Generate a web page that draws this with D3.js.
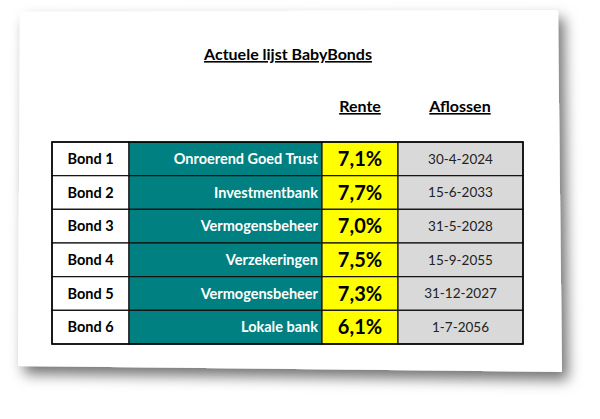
<!DOCTYPE html><html><head><meta charset="utf-8"><script src="https://cdn.jsdelivr.net/npm/d3@7"></script>
<style>body{margin:0;background:#fff}svg{display:block}</style></head><body><svg id="c" width="600" height="419"></svg>
<script>
const bonds=["Bond 1","Bond 2","Bond 3","Bond 4","Bond 5","Bond 6"];
const names=["Onroerend Goed Trust","Investmentbank","Vermogensbeheer","Verzekeringen","Vermogensbeheer","Lokale bank"];
const rates=["7,1%","7,7%","7,0%","7,5%","7,3%","6,1%"];
const dates=["30-4-2024","15-6-2033","31-5-2028","15-9-2055","31-12-2027","1-7-2056"];
const svg=d3.select("#c");
const F="Lato, 'Open Sans', sans-serif";
const defs=svg.append("defs");
const f=defs.append("filter").attr("id","sh").attr("x","-10%").attr("y","-10%").attr("width","125%").attr("height","130%");
f.append("feDropShadow").attr("dx",6).attr("dy",8).attr("stdDeviation",7).attr("flood-color","#000").attr("flood-opacity",0.55);
svg.append("path").attr("d","M20,12 L558,10 L562,372 L18,366 Z").attr("fill","#fff").attr("filter","url(#sh)");
svg.append("text").attr("x",288).attr("y",60).attr("text-anchor","middle").attr("font-family",F).attr("font-weight","bold").attr("font-size",16).attr("text-decoration","underline").text("Actuele lijst BabyBonds");
[["Rente",360],["Aflossen",460]].forEach(([t,x])=>svg.append("text").attr("x",x).attr("y",112).attr("text-anchor","middle").attr("font-family",F).attr("font-weight","bold").attr("font-size",16).attr("text-decoration","underline").text(t));
const y=d3.scaleBand().domain(d3.range(6)).range([142,344]);
const cols=[{x0:52,x1:129,fill:"#fff",col:"#000",txt:bonds,anchor:"middle",size:14.5,w:"bold"},
{x0:129,x1:322,fill:"#008080",col:"#fff",txt:names,anchor:"end",size:14.5,w:"bold"},
{x0:322,x1:398,fill:"#ffff00",col:"#000",txt:rates,anchor:"middle",size:20,w:"bold"},
{x0:398,x1:523,fill:"#d9d9d9",col:"#222",txt:dates,anchor:"middle",size:13.5,w:"normal"}];
cols.forEach(c=>{
 const g=svg.append("g");
 g.selectAll("rect").data(d3.range(6)).join("rect").attr("x",c.x0).attr("y",i=>y(i)).attr("width",c.x1-c.x0).attr("height",y.bandwidth()).attr("fill",c.fill).attr("stroke","#111").attr("stroke-width",1.2);
 g.selectAll("text").data(d3.range(6)).join("text").attr("x",c.anchor==="end"?c.x1-4:(c.x0+c.x1)/2).attr("y",i=>y(i)+y.bandwidth()/2).attr("dy","0.36em").attr("text-anchor",c.anchor).attr("font-family",F).attr("font-weight",c.w).attr("font-size",c.size).attr("fill",c.col).text(i=>c.txt[i]);
});
svg.append("rect").attr("x",52).attr("y",142).attr("width",471).attr("height",202).attr("fill","none").attr("stroke","#000").attr("stroke-width",1.5);
</script></body></html>
